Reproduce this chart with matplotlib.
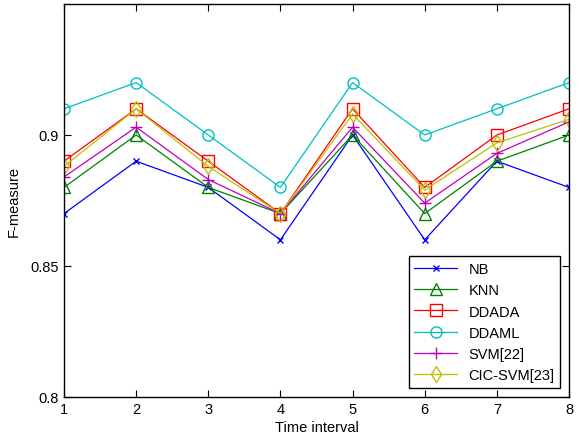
import matplotlib
matplotlib.use('Agg')
import matplotlib.pyplot as plt

plt.rcParams['font.family'] = ['Liberation Sans', 'DejaVu Sans']

# -- Data -- #
x = [1, 2, 3, 4, 5, 6, 7, 8]
nb = [0.87, 0.89, 0.88, 0.86, 0.90, 0.86, 0.89, 0.88]
knn = [0.88, 0.90, 0.88, 0.87, 0.90, 0.87, 0.89, 0.90]
ddada = [0.89, 0.91, 0.89, 0.87, 0.91, 0.88, 0.90, 0.91]
ddaml = [0.91, 0.92, 0.90, 0.88, 0.92, 0.90, 0.91, 0.92]
svm22 = [0.884, 0.903, 0.883, 0.870, 0.903, 0.874, 0.893, 0.905]
cicsvm = [0.888, 0.910, 0.888, 0.870, 0.908, 0.879, 0.897, 0.906]

series = [
    ('NB', nb, (0, 0, 1), 'x'),
    ('KNN', knn, (0, 0.5, 0), '^'),
    ('DDADA', ddada, (1, 0, 0), 's'),
    ('DDAML', ddaml, (0, 0.75, 0.75), 'o'),
    ('SVM[22]', svm22, (0.75, 0, 0.75), '+'),
    ('CIC-SVM[23]', cicsvm, (0.75, 0.75, 0), 'd'),
]

fig = plt.figure(figsize=(5.79, 4.39), dpi=100)
ax = fig.add_axes([64 / 579, 1 - 398 / 439, 505 / 579, 393 / 439])

for name, vals, col, mk in series:
    ms = 5 if mk == 'x' else 8
    ax.plot(x, vals, color=col, marker=mk, markersize=ms, markerfacecolor='none',
            markeredgecolor=col, linewidth=0.9, label=name)

ax.set_xlim(1, 8)
ax.set_ylim(0.8, 0.95)
ax.set_xticks(x)
ax.set_yticks([0.8, 0.85, 0.9])
ax.set_yticklabels(['0.8', '0.85', '0.9'])
ax.tick_params(direction='in', top=True, right=True, labelsize=10.5, length=5)
for sp in ax.spines.values():
    sp.set_linewidth(1.0)

ax.set_xlabel('Time interval', fontsize=10.5, labelpad=3)
ax.set_ylabel('F-measure', fontsize=10.5, labelpad=7)

leg = ax.legend(loc='lower right', fontsize=10.5, fancybox=False, framealpha=1,
                edgecolor='black', borderaxespad=0.6, handlelength=2.9,
                labelspacing=0.5)
leg.get_frame().set_linewidth(1.0)

fig.savefig('out.png', dpi=100)
